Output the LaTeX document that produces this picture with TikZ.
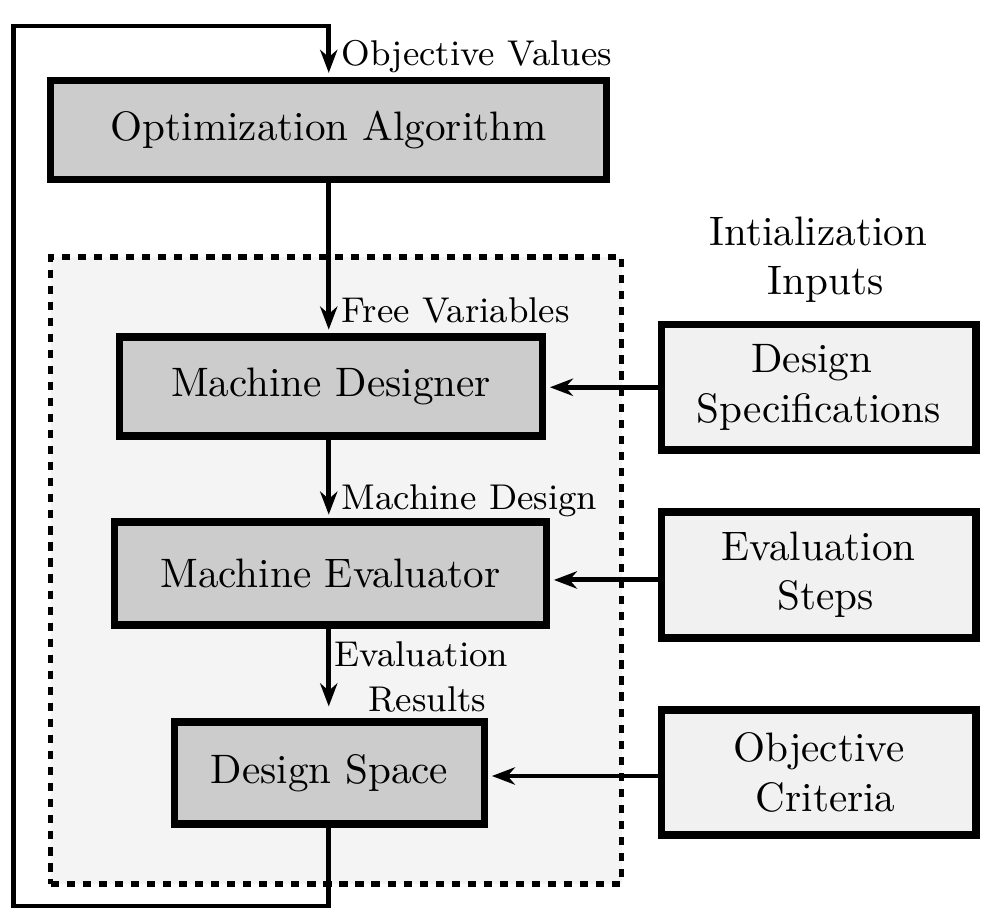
\documentclass[tikz,border=0pt]{standalone}
\usetikzlibrary{arrows.meta}
\definecolor{boxgray}{RGB}{204,204,204}
\definecolor{inputgray}{RGB}{241,241,241}
\definecolor{groupgray}{RGB}{244,244,244}
\def\pxu{0.243pt}
\begin{document}
\begin{tikzpicture}[x=0.243pt,y=-0.243pt,
  mainbox/.style={draw=black, line width=1.8pt, fill=boxgray, inner sep=0pt, font=\fontsize{10}{12}\selectfont},
  inputbox/.style={draw=black, line width=1.9pt, fill=inputgray, inner sep=0pt, align=center, font=\fontsize{10}{12}\selectfont},
  groupbox/.style={draw=black, line width=1.25pt, fill=groupgray, dash pattern=on 2pt off 1.9pt, inner sep=0pt},
  flow/.style={line width=1.2pt, -{Stealth[length=5.6pt,width=4.2pt,inset=1.8pt]}, shorten >=0.9pt},
  lbl/.style={inner sep=0pt, font=\fontsize{8.7}{10.9}\selectfont},
  title/.style={inner sep=0pt, align=center, font=\fontsize{10}{12}\selectfont}
]
\useasboundingbox (0,0) rectangle (982,919);

% group background
\node[groupbox, minimum width={571*\pxu}, minimum height={627*\pxu}] (grp) at (336,570.5) {};

% main boxes
\node[mainbox, minimum width={556*\pxu}, minimum height={99.5*\pxu}] (opt) at (328.75,130) {Optimization Algorithm};
\node[mainbox, minimum width={423*\pxu}, minimum height={99*\pxu}] (designer) at (331,386.5) {Machine Designer};
\node[mainbox, minimum width={432*\pxu}, minimum height={103*\pxu}] (evaluator) at (330.5,573.5) {Machine Evaluator};
\node[mainbox, minimum width={310*\pxu}, minimum height={102*\pxu}] (space) at (329.5,773) {Design Space};

% input boxes
\node[inputbox, minimum width={314.5*\pxu}, minimum height={125.5*\pxu}] (dspec) at (818.75,387.25) {Design\hspace*{\fontdimen2\font}\\Specifications};
\node[inputbox, minimum width={314.5*\pxu}, minimum height={126.5*\pxu}] (esteps) at (818.75,575) {Evaluation\\\hspace*{\fontdimen2\font}Steps};
\node[inputbox, minimum width={314.5*\pxu}, minimum height={125*\pxu}] (ocrit) at (818.75,772.5) {Objective\\\hspace*{\fontdimen2\font}Criteria};

\node[title, anchor=north] (init) at (818.5,215.7) {Intialization\\\hspace*{\fontdimen2\font}Inputs};

% vertical flow
\draw[flow] (opt.south) -- (opt.south |- designer.north);
\draw[flow] (designer.south -| opt.south) -- (evaluator.north -| opt.south);
\draw[flow, shorten >=2.9pt] (evaluator.south -| opt.south) -- (space.north -| opt.south);

% inputs
\draw[flow] (dspec.west) -- (dspec.west -| designer.east);
\draw[flow] ([yshift=-1.2pt]esteps.west) -- ([yshift=-1.2pt]esteps.west -| evaluator.east);
\draw[flow] ([yshift=-0.85pt]ocrit.west) -- ([yshift=-0.85pt]ocrit.west -| space.east);

% feedback loop
\coordinate (loopBL) at (13.5,906);
\coordinate (loopTL) at (13.5,26);
\draw[flow] (space.south -| opt.south) |- (loopBL) -- (loopTL) -| (opt.north);

% labels
\node[lbl, anchor=base west] (lobj) at (341,65) {Objective Values};
\node[lbl, anchor=base west] (lfree) at (341,322) {Free Variables};
\node[lbl, anchor=base west] (lmd) at (341,509) {Machine Design};
\node[lbl, anchor=north, align=center] (ler) at (421.5,641) {Evaluation\\\hspace*{\fontdimen2\font}Results};
\end{tikzpicture}
\end{document}
